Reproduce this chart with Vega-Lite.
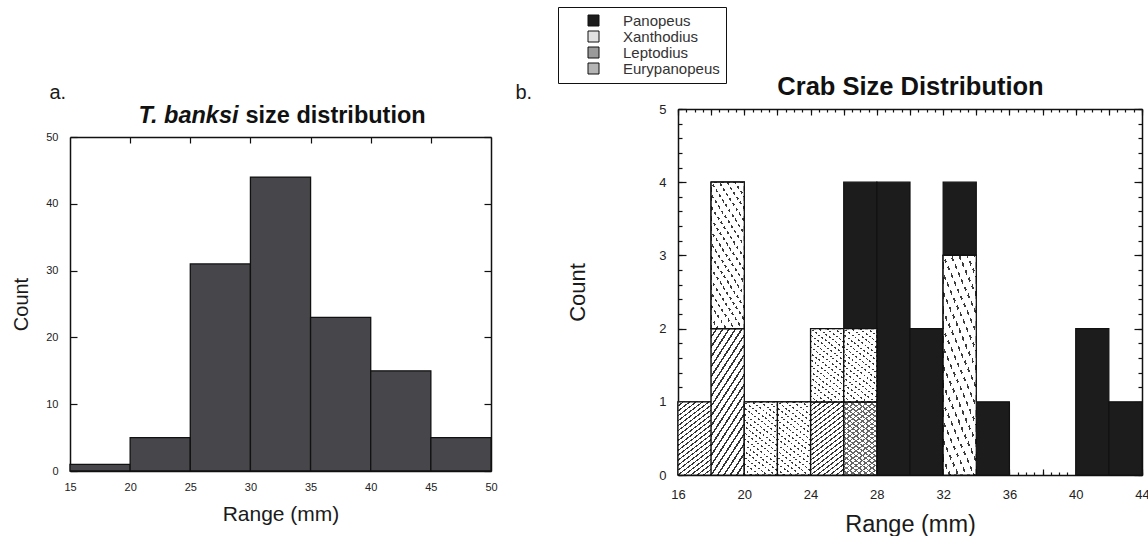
{
  "$schema": "https://vega.github.io/schema/vega-lite/v6.json",
  "background": "white",
  "padding": {"left": 11, "top": 6, "right": 0, "bottom": 0},
  "config": {
    "font": "Liberation Sans",
    "view": {"stroke": null},
    "axis": {
      "grid": false,
      "domainColor": "#111111",
      "domainWidth": 1.5,
      "tickColor": "#111111",
      "tickWidth": 1.2,
      "labelColor": "#222222",
      "titleColor": "#1a1a1a",
      "titleFontWeight": "normal",
      "labelFlush": false,
      "labelOverlap": false
    }
  },
  "datasets": {
    "tbanksi": [
      {"lo": 15, "hi": 20, "count": 1},
      {"lo": 20, "hi": 25, "count": 5},
      {"lo": 25, "hi": 30, "count": 31},
      {"lo": 30, "hi": 35, "count": 44},
      {"lo": 35, "hi": 40, "count": 23},
      {"lo": 40, "hi": 45, "count": 15},
      {"lo": 45, "hi": 50, "count": 5}
    ],
    "crabs": [
      {"lo": 16, "hi": 18, "species": "Leptodius", "count": 1},
      {"lo": 18, "hi": 20, "species": "Leptodius", "count": 2},
      {"lo": 18, "hi": 20, "species": "Xanthodius", "count": 2},
      {"lo": 20, "hi": 22, "species": "Xanthodius", "count": 1},
      {"lo": 22, "hi": 24, "species": "Xanthodius", "count": 1},
      {"lo": 24, "hi": 26, "species": "Leptodius", "count": 1},
      {"lo": 24, "hi": 26, "species": "Xanthodius", "count": 1},
      {"lo": 26, "hi": 28, "species": "Eurypanopeus", "count": 1},
      {"lo": 26, "hi": 28, "species": "Xanthodius", "count": 1},
      {"lo": 26, "hi": 28, "species": "Panopeus", "count": 2},
      {"lo": 28, "hi": 30, "species": "Panopeus", "count": 4},
      {"lo": 30, "hi": 32, "species": "Panopeus", "count": 2},
      {"lo": 32, "hi": 34, "species": "Xanthodius", "count": 3},
      {"lo": 32, "hi": 34, "species": "Panopeus", "count": 1},
      {"lo": 34, "hi": 36, "species": "Panopeus", "count": 1},
      {"lo": 40, "hi": 42, "species": "Panopeus", "count": 2},
      {"lo": 42, "hi": 44, "species": "Panopeus", "count": 1}
    ]
  },
  "bounds": "flush",
  "spacing": 187,
  "hconcat": [
    {
      "width": 421,
      "height": 362,
      "data": {"name": "tbanksi"},
      "resolve": {"axis": {"x": "independent", "y": "independent"}},
      "layer": [
        {
          "mark": {"type": "bar", "fill": "#47464a", "stroke": "#111111", "strokeWidth": 1.3},
          "encoding": {
            "x": {
              "field": "lo", "type": "quantitative",
              "scale": {"domain": [15, 50], "nice": false, "zero": false},
              "axis": {
                "orient": "bottom", "values": [15, 20, 25, 30, 35, 40, 45, 50],
                "ticks": false, "labelFontSize": 11, "labelPadding": 10,
                "title": "Range (mm)", "titleFontSize": 21, "titlePadding": 11
              }
            },
            "x2": {"field": "hi"},
            "y": {
              "field": "count", "type": "quantitative",
              "scale": {"domain": [0, 50], "range": [362, 28], "nice": false},
              "axis": {
                "orient": "left", "values": [0, 10, 20, 30, 40, 50],
                "tickSize": -7, "labelFontSize": 11, "labelPadding": 19,
                "title": "Count", "titleFontSize": 20, "titlePadding": 14
              }
            },
            "y2": {"datum": 0}
          }
        },
        {
          "transform": [{"filter": "false"}],
          "mark": {"type": "bar"},
          "encoding": {
            "x": {
              "field": "lo", "type": "quantitative",
              "scale": {"domain": [15, 50], "nice": false, "zero": false},
              "axis": {
                "orient": "top", "offset": -28, "values": [20, 25, 30, 35, 40, 45],
                "tickSize": -6, "labels": false,
                "title": "size distribution", "titleX": 175, "titleY": -15, "titleAngle": 0,
                "titleAlign": "left", "titleBaseline": "alphabetic",
                "titleFontSize": 23.5, "titleFontWeight": "bold", "titleColor": "#111111"
              }
            },
            "x2": {"field": "hi"},
            "y": {
              "field": "count", "type": "quantitative",
              "scale": {"domain": [0, 50], "range": [362, 28], "nice": false},
              "axis": {
                "orient": "right", "values": [0, 10, 20, 30, 40, 50],
                "tickSize": -7, "labels": false,
                "title": "T. banksi", "titleX": -253, "titleY": 13, "titleAngle": 0,
                "titleAlign": "right", "titleBaseline": "alphabetic",
                "titleFontSize": 23.5, "titleFontWeight": "bold", "titleFontStyle": "italic", "titleColor": "#111111"
              }
            },
            "y2": {"datum": 0}
          }
        },
        {
          "transform": [{"filter": "false"}],
          "mark": {"type": "bar"},
          "encoding": {
            "x": {
              "field": "lo", "type": "quantitative",
              "scale": {"domain": [15, 50], "nice": false, "zero": false},
              "axis": null
            },
            "x2": {"field": "hi"},
            "y": {
              "field": "count", "type": "quantitative",
              "scale": {"domain": [0, 50], "range": [362, 28], "nice": false},
              "axis": {
                "orient": "left", "domain": false, "ticks": false, "labels": false,
                "title": "a.", "titleX": -21, "titleY": -11, "titleAngle": 0,
                "titleAlign": "left", "titleBaseline": "alphabetic", "titleFontSize": 20
              }
            },
            "y2": {"datum": 0}
          }
        }
      ]
    },
    {
      "width": 464,
      "height": 366,
      "data": {"name": "crabs"},
      "transform": [{"stack": "count", "groupby": ["lo"], "as": ["y0", "y1"]}],
      "resolve": {"axis": {"x": "independent", "y": "independent"}},
      "layer": [
        {
          "mark": {"type": "bar", "stroke": "#111111", "strokeWidth": 1.2},
          "encoding": {
            "x": {
              "field": "lo", "type": "quantitative",
              "scale": {"domain": [16, 44], "nice": false, "zero": false},
              "axis": {
                "orient": "bottom", "values": [16, 18, 20, 22, 24, 26, 28, 30, 32, 34, 36, 38, 40, 42, 44],
                "labelExpr": "datum.value % 4 === 0 ? datum.label : ''",
                "tickSize": -6, "labelFontSize": 13, "labelPadding": 19,
                "title": "Range (mm)", "titleFontSize": 23.5, "titlePadding": 11
              }
            },
            "x2": {"field": "hi"},
            "y": {
              "field": "y0", "type": "quantitative",
              "scale": {"domain": [0, 5], "nice": false},
              "axis": {
                "orient": "left", "values": [0, 1, 2, 3, 4, 5],
                "tickSize": -8, "labelFontSize": 13, "labelPadding": 20,
                "title": "Count", "titleFontSize": 22, "titlePadding": 69
              }
            },
            "y2": {"field": "y1"},
            "fill": {
              "field": "species", "type": "nominal",
              "scale": {
                "domain": ["Panopeus", "Xanthodius", "Leptodius", "Eurypanopeus"],
                "range": ["#1c1c1c", "#e2e2e2", "#9a9a9a", "#b4b4b4"]
              },
              "legend": {
                "orient": "none", "legendX": 488, "legendY": -102,
                "title": null, "symbolType": "square", "symbolSize": 121,
                "symbolStrokeColor": "#111111", "symbolStrokeWidth": 1,
                "symbolOffset": 22, "labelOffset": 22,
                "labelFontSize": 15, "labelColor": "#333333", "labelLimit": 300,
                "rowPadding": 0, "padding": 6,
                "strokeColor": "#111111", "fillColor": "#ffffff"
              }
            }
          }
        },
        {
          "transform": [{"filter": {"field": "species", "oneOf": ["Xanthodius", "Leptodius", "Eurypanopeus"]}}],
          "mark": {"type": "bar", "stroke": "#111111", "strokeWidth": 1.2},
          "encoding": {
            "x": {
              "field": "lo", "type": "quantitative",
              "scale": {"domain": [16, 44], "nice": false, "zero": false},
              "axis": {
                "orient": "top", "values": [16, 18, 20, 22, 24, 26, 28, 30, 32, 34, 36, 38, 40, 42, 44],
                "tickSize": -6, "labels": false,
                "title": "Crab Size Distribution", "titleX": 232, "titleY": -15, "titleAngle": 0,
                "titleAlign": "center", "titleBaseline": "alphabetic",
                "titleFontSize": 25.5, "titleFontWeight": "bold", "titleColor": "#111111"
              }
            },
            "x2": {"field": "hi"},
            "y": {
              "field": "y0", "type": "quantitative",
              "scale": {"domain": [0, 5], "nice": false},
              "axis": {"orient": "right", "values": [0, 1, 2, 3, 4, 5], "tickSize": -8, "labels": false, "title": null}
            },
            "y2": {"field": "y1"},
            "fill": {
              "condition": [
                {
                  "test": "datum.species === 'Xanthodius'",
                  "value": {
                    "gradient": "linear", "x1": 0, "y1": 1, "x2": 0.42, "y2": -0.2,
                    "stops": [
                      {"offset": 0, "color": "#ffffff"}, {"offset": 0.047, "color": "#ffffff"}, {"offset": 0.047, "color": "#3a3a3a"}, {"offset": 0.0625, "color": "#3a3a3a"},
                      {"offset": 0.0625, "color": "#ffffff"}, {"offset": 0.1095, "color": "#ffffff"}, {"offset": 0.1095, "color": "#3a3a3a"}, {"offset": 0.125, "color": "#3a3a3a"},
                      {"offset": 0.125, "color": "#ffffff"}, {"offset": 0.172, "color": "#ffffff"}, {"offset": 0.172, "color": "#3a3a3a"}, {"offset": 0.1875, "color": "#3a3a3a"},
                      {"offset": 0.1875, "color": "#ffffff"}, {"offset": 0.2345, "color": "#ffffff"}, {"offset": 0.2345, "color": "#3a3a3a"}, {"offset": 0.25, "color": "#3a3a3a"},
                      {"offset": 0.25, "color": "#ffffff"}, {"offset": 0.297, "color": "#ffffff"}, {"offset": 0.297, "color": "#3a3a3a"}, {"offset": 0.3125, "color": "#3a3a3a"},
                      {"offset": 0.3125, "color": "#ffffff"}, {"offset": 0.3595, "color": "#ffffff"}, {"offset": 0.3595, "color": "#3a3a3a"}, {"offset": 0.375, "color": "#3a3a3a"},
                      {"offset": 0.375, "color": "#ffffff"}, {"offset": 0.422, "color": "#ffffff"}, {"offset": 0.422, "color": "#3a3a3a"}, {"offset": 0.4375, "color": "#3a3a3a"},
                      {"offset": 0.4375, "color": "#ffffff"}, {"offset": 0.4845, "color": "#ffffff"}, {"offset": 0.4845, "color": "#3a3a3a"}, {"offset": 0.5, "color": "#3a3a3a"},
                      {"offset": 0.5, "color": "#ffffff"}, {"offset": 0.547, "color": "#ffffff"}, {"offset": 0.547, "color": "#3a3a3a"}, {"offset": 0.5625, "color": "#3a3a3a"},
                      {"offset": 0.5625, "color": "#ffffff"}, {"offset": 0.6095, "color": "#ffffff"}, {"offset": 0.6095, "color": "#3a3a3a"}, {"offset": 0.625, "color": "#3a3a3a"},
                      {"offset": 0.625, "color": "#ffffff"}, {"offset": 0.672, "color": "#ffffff"}, {"offset": 0.672, "color": "#3a3a3a"}, {"offset": 0.6875, "color": "#3a3a3a"},
                      {"offset": 0.6875, "color": "#ffffff"}, {"offset": 0.7345, "color": "#ffffff"}, {"offset": 0.7345, "color": "#3a3a3a"}, {"offset": 0.75, "color": "#3a3a3a"},
                      {"offset": 0.75, "color": "#ffffff"}, {"offset": 0.797, "color": "#ffffff"}, {"offset": 0.797, "color": "#3a3a3a"}, {"offset": 0.8125, "color": "#3a3a3a"},
                      {"offset": 0.8125, "color": "#ffffff"}, {"offset": 0.8595, "color": "#ffffff"}, {"offset": 0.8595, "color": "#3a3a3a"}, {"offset": 0.875, "color": "#3a3a3a"},
                      {"offset": 0.875, "color": "#ffffff"}, {"offset": 0.922, "color": "#ffffff"}, {"offset": 0.922, "color": "#3a3a3a"}, {"offset": 0.9375, "color": "#3a3a3a"},
                      {"offset": 0.9375, "color": "#ffffff"}, {"offset": 0.9845, "color": "#ffffff"}, {"offset": 0.9845, "color": "#3a3a3a"}, {"offset": 1, "color": "#3a3a3a"}
                    ]
                  }
                },
                {
                  "test": "datum.species === 'Leptodius'",
                  "value": {
                    "gradient": "linear", "x1": 0, "y1": 0, "x2": 0.42, "y2": 1.2,
                    "stops": [
                      {"offset": 0, "color": "#ffffff"}, {"offset": 0.036, "color": "#ffffff"}, {"offset": 0.036, "color": "#333333"}, {"offset": 0.05, "color": "#333333"},
                      {"offset": 0.05, "color": "#ffffff"}, {"offset": 0.086, "color": "#ffffff"}, {"offset": 0.086, "color": "#333333"}, {"offset": 0.1, "color": "#333333"},
                      {"offset": 0.1, "color": "#ffffff"}, {"offset": 0.136, "color": "#ffffff"}, {"offset": 0.136, "color": "#333333"}, {"offset": 0.15, "color": "#333333"},
                      {"offset": 0.15, "color": "#ffffff"}, {"offset": 0.186, "color": "#ffffff"}, {"offset": 0.186, "color": "#333333"}, {"offset": 0.2, "color": "#333333"},
                      {"offset": 0.2, "color": "#ffffff"}, {"offset": 0.236, "color": "#ffffff"}, {"offset": 0.236, "color": "#333333"}, {"offset": 0.25, "color": "#333333"},
                      {"offset": 0.25, "color": "#ffffff"}, {"offset": 0.286, "color": "#ffffff"}, {"offset": 0.286, "color": "#333333"}, {"offset": 0.3, "color": "#333333"},
                      {"offset": 0.3, "color": "#ffffff"}, {"offset": 0.336, "color": "#ffffff"}, {"offset": 0.336, "color": "#333333"}, {"offset": 0.35, "color": "#333333"},
                      {"offset": 0.35, "color": "#ffffff"}, {"offset": 0.386, "color": "#ffffff"}, {"offset": 0.386, "color": "#333333"}, {"offset": 0.4, "color": "#333333"},
                      {"offset": 0.4, "color": "#ffffff"}, {"offset": 0.436, "color": "#ffffff"}, {"offset": 0.436, "color": "#333333"}, {"offset": 0.45, "color": "#333333"},
                      {"offset": 0.45, "color": "#ffffff"}, {"offset": 0.486, "color": "#ffffff"}, {"offset": 0.486, "color": "#333333"}, {"offset": 0.5, "color": "#333333"},
                      {"offset": 0.5, "color": "#ffffff"}, {"offset": 0.536, "color": "#ffffff"}, {"offset": 0.536, "color": "#333333"}, {"offset": 0.55, "color": "#333333"},
                      {"offset": 0.55, "color": "#ffffff"}, {"offset": 0.586, "color": "#ffffff"}, {"offset": 0.586, "color": "#333333"}, {"offset": 0.6, "color": "#333333"},
                      {"offset": 0.6, "color": "#ffffff"}, {"offset": 0.636, "color": "#ffffff"}, {"offset": 0.636, "color": "#333333"}, {"offset": 0.65, "color": "#333333"},
                      {"offset": 0.65, "color": "#ffffff"}, {"offset": 0.686, "color": "#ffffff"}, {"offset": 0.686, "color": "#333333"}, {"offset": 0.7, "color": "#333333"},
                      {"offset": 0.7, "color": "#ffffff"}, {"offset": 0.736, "color": "#ffffff"}, {"offset": 0.736, "color": "#333333"}, {"offset": 0.75, "color": "#333333"},
                      {"offset": 0.75, "color": "#ffffff"}, {"offset": 0.786, "color": "#ffffff"}, {"offset": 0.786, "color": "#333333"}, {"offset": 0.8, "color": "#333333"},
                      {"offset": 0.8, "color": "#ffffff"}, {"offset": 0.836, "color": "#ffffff"}, {"offset": 0.836, "color": "#333333"}, {"offset": 0.85, "color": "#333333"},
                      {"offset": 0.85, "color": "#ffffff"}, {"offset": 0.886, "color": "#ffffff"}, {"offset": 0.886, "color": "#333333"}, {"offset": 0.9, "color": "#333333"},
                      {"offset": 0.9, "color": "#ffffff"}, {"offset": 0.936, "color": "#ffffff"}, {"offset": 0.936, "color": "#333333"}, {"offset": 0.95, "color": "#333333"},
                      {"offset": 0.95, "color": "#ffffff"}, {"offset": 0.986, "color": "#ffffff"}, {"offset": 0.986, "color": "#333333"}, {"offset": 1, "color": "#333333"}
                    ]
                  }
                }
              ],
              "value": {
                "gradient": "linear", "x1": 0, "y1": 1, "x2": 0.42, "y2": -0.2,
                "stops": [
                  {"offset": 0, "color": "#ffffff"}, {"offset": 0.036, "color": "#ffffff"}, {"offset": 0.036, "color": "#666666"}, {"offset": 0.05, "color": "#666666"},
                  {"offset": 0.05, "color": "#ffffff"}, {"offset": 0.086, "color": "#ffffff"}, {"offset": 0.086, "color": "#666666"}, {"offset": 0.1, "color": "#666666"},
                  {"offset": 0.1, "color": "#ffffff"}, {"offset": 0.136, "color": "#ffffff"}, {"offset": 0.136, "color": "#666666"}, {"offset": 0.15, "color": "#666666"},
                  {"offset": 0.15, "color": "#ffffff"}, {"offset": 0.186, "color": "#ffffff"}, {"offset": 0.186, "color": "#666666"}, {"offset": 0.2, "color": "#666666"},
                  {"offset": 0.2, "color": "#ffffff"}, {"offset": 0.236, "color": "#ffffff"}, {"offset": 0.236, "color": "#666666"}, {"offset": 0.25, "color": "#666666"},
                  {"offset": 0.25, "color": "#ffffff"}, {"offset": 0.286, "color": "#ffffff"}, {"offset": 0.286, "color": "#666666"}, {"offset": 0.3, "color": "#666666"},
                  {"offset": 0.3, "color": "#ffffff"}, {"offset": 0.336, "color": "#ffffff"}, {"offset": 0.336, "color": "#666666"}, {"offset": 0.35, "color": "#666666"},
                  {"offset": 0.35, "color": "#ffffff"}, {"offset": 0.386, "color": "#ffffff"}, {"offset": 0.386, "color": "#666666"}, {"offset": 0.4, "color": "#666666"},
                  {"offset": 0.4, "color": "#ffffff"}, {"offset": 0.436, "color": "#ffffff"}, {"offset": 0.436, "color": "#666666"}, {"offset": 0.45, "color": "#666666"},
                  {"offset": 0.45, "color": "#ffffff"}, {"offset": 0.486, "color": "#ffffff"}, {"offset": 0.486, "color": "#666666"}, {"offset": 0.5, "color": "#666666"},
                  {"offset": 0.5, "color": "#ffffff"}, {"offset": 0.536, "color": "#ffffff"}, {"offset": 0.536, "color": "#666666"}, {"offset": 0.55, "color": "#666666"},
                  {"offset": 0.55, "color": "#ffffff"}, {"offset": 0.586, "color": "#ffffff"}, {"offset": 0.586, "color": "#666666"}, {"offset": 0.6, "color": "#666666"},
                  {"offset": 0.6, "color": "#ffffff"}, {"offset": 0.636, "color": "#ffffff"}, {"offset": 0.636, "color": "#666666"}, {"offset": 0.65, "color": "#666666"},
                  {"offset": 0.65, "color": "#ffffff"}, {"offset": 0.686, "color": "#ffffff"}, {"offset": 0.686, "color": "#666666"}, {"offset": 0.7, "color": "#666666"},
                  {"offset": 0.7, "color": "#ffffff"}, {"offset": 0.736, "color": "#ffffff"}, {"offset": 0.736, "color": "#666666"}, {"offset": 0.75, "color": "#666666"},
                  {"offset": 0.75, "color": "#ffffff"}, {"offset": 0.786, "color": "#ffffff"}, {"offset": 0.786, "color": "#666666"}, {"offset": 0.8, "color": "#666666"},
                  {"offset": 0.8, "color": "#ffffff"}, {"offset": 0.836, "color": "#ffffff"}, {"offset": 0.836, "color": "#666666"}, {"offset": 0.85, "color": "#666666"},
                  {"offset": 0.85, "color": "#ffffff"}, {"offset": 0.886, "color": "#ffffff"}, {"offset": 0.886, "color": "#666666"}, {"offset": 0.9, "color": "#666666"},
                  {"offset": 0.9, "color": "#ffffff"}, {"offset": 0.936, "color": "#ffffff"}, {"offset": 0.936, "color": "#666666"}, {"offset": 0.95, "color": "#666666"},
                  {"offset": 0.95, "color": "#ffffff"}, {"offset": 0.986, "color": "#ffffff"}, {"offset": 0.986, "color": "#666666"}, {"offset": 1, "color": "#666666"}
                ]
              }
            }
          }
        },
        {
          "transform": [{"filter": {"field": "species", "oneOf": ["Xanthodius", "Eurypanopeus"]}}],
          "mark": {"type": "bar", "stroke": "#111111", "strokeWidth": 1.2},
          "encoding": {
            "x": {
              "field": "lo", "type": "quantitative",
              "scale": {"domain": [16, 44], "nice": false, "zero": false},
              "axis": {
                "orient": "bottom", "domain": false, "labels": false, "tickSize": -3, "title": null,
                "values": [16, 16.5, 17, 17.5, 18, 18.5, 19, 19.5, 20, 20.5, 21, 21.5, 22, 22.5, 23, 23.5, 24, 24.5, 25, 25.5, 26, 26.5, 27, 27.5, 28, 28.5, 29, 29.5, 30, 30.5, 31, 31.5, 32, 32.5, 33, 33.5, 34, 34.5, 35, 35.5, 36, 36.5, 37, 37.5, 38, 38.5, 39, 39.5, 40, 40.5, 41, 41.5, 42, 42.5, 43, 43.5, 44]
              }
            },
            "x2": {"field": "hi"},
            "y": {
              "field": "y0", "type": "quantitative",
              "scale": {"domain": [0, 5], "nice": false},
              "axis": {
                "orient": "left", "domain": false, "labels": false, "tickSize": -4,
                "values": [0, 0.2, 0.4, 0.6, 0.8, 1, 1.2, 1.4, 1.6, 1.8, 2, 2.2, 2.4, 2.6, 2.8, 3, 3.2, 3.4, 3.6, 3.8, 4, 4.2, 4.4, 4.6, 4.8, 5],
                "title": "b.", "titleX": -163, "titleY": -11, "titleAngle": 0,
                "titleAlign": "left", "titleBaseline": "alphabetic", "titleFontSize": 20
              }
            },
            "y2": {"field": "y1"},
            "fill": {
              "condition": {
                "test": "datum.species === 'Xanthodius'",
                "value": {
                  "gradient": "linear", "x1": 0, "y1": 0, "x2": 0.42, "y2": 1.2,
                  "stops": [
                    {"offset": 0, "color": "#ffffff"}, {"offset": 0.025, "color": "#ffffff"}, {"offset": 0.025, "color": "rgba(255,255,255,0)"}, {"offset": 0.05, "color": "rgba(255,255,255,0)"},
                    {"offset": 0.05, "color": "#ffffff"}, {"offset": 0.075, "color": "#ffffff"}, {"offset": 0.075, "color": "rgba(255,255,255,0)"}, {"offset": 0.1, "color": "rgba(255,255,255,0)"},
                    {"offset": 0.1, "color": "#ffffff"}, {"offset": 0.125, "color": "#ffffff"}, {"offset": 0.125, "color": "rgba(255,255,255,0)"}, {"offset": 0.15, "color": "rgba(255,255,255,0)"},
                    {"offset": 0.15, "color": "#ffffff"}, {"offset": 0.175, "color": "#ffffff"}, {"offset": 0.175, "color": "rgba(255,255,255,0)"}, {"offset": 0.2, "color": "rgba(255,255,255,0)"},
                    {"offset": 0.2, "color": "#ffffff"}, {"offset": 0.225, "color": "#ffffff"}, {"offset": 0.225, "color": "rgba(255,255,255,0)"}, {"offset": 0.25, "color": "rgba(255,255,255,0)"},
                    {"offset": 0.25, "color": "#ffffff"}, {"offset": 0.275, "color": "#ffffff"}, {"offset": 0.275, "color": "rgba(255,255,255,0)"}, {"offset": 0.3, "color": "rgba(255,255,255,0)"},
                    {"offset": 0.3, "color": "#ffffff"}, {"offset": 0.325, "color": "#ffffff"}, {"offset": 0.325, "color": "rgba(255,255,255,0)"}, {"offset": 0.35, "color": "rgba(255,255,255,0)"},
                    {"offset": 0.35, "color": "#ffffff"}, {"offset": 0.375, "color": "#ffffff"}, {"offset": 0.375, "color": "rgba(255,255,255,0)"}, {"offset": 0.4, "color": "rgba(255,255,255,0)"},
                    {"offset": 0.4, "color": "#ffffff"}, {"offset": 0.425, "color": "#ffffff"}, {"offset": 0.425, "color": "rgba(255,255,255,0)"}, {"offset": 0.45, "color": "rgba(255,255,255,0)"},
                    {"offset": 0.45, "color": "#ffffff"}, {"offset": 0.475, "color": "#ffffff"}, {"offset": 0.475, "color": "rgba(255,255,255,0)"}, {"offset": 0.5, "color": "rgba(255,255,255,0)"},
                    {"offset": 0.5, "color": "#ffffff"}, {"offset": 0.525, "color": "#ffffff"}, {"offset": 0.525, "color": "rgba(255,255,255,0)"}, {"offset": 0.55, "color": "rgba(255,255,255,0)"},
                    {"offset": 0.55, "color": "#ffffff"}, {"offset": 0.575, "color": "#ffffff"}, {"offset": 0.575, "color": "rgba(255,255,255,0)"}, {"offset": 0.6, "color": "rgba(255,255,255,0)"},
                    {"offset": 0.6, "color": "#ffffff"}, {"offset": 0.625, "color": "#ffffff"}, {"offset": 0.625, "color": "rgba(255,255,255,0)"}, {"offset": 0.65, "color": "rgba(255,255,255,0)"},
                    {"offset": 0.65, "color": "#ffffff"}, {"offset": 0.675, "color": "#ffffff"}, {"offset": 0.675, "color": "rgba(255,255,255,0)"}, {"offset": 0.7, "color": "rgba(255,255,255,0)"},
                    {"offset": 0.7, "color": "#ffffff"}, {"offset": 0.725, "color": "#ffffff"}, {"offset": 0.725, "color": "rgba(255,255,255,0)"}, {"offset": 0.75, "color": "rgba(255,255,255,0)"},
                    {"offset": 0.75, "color": "#ffffff"}, {"offset": 0.775, "color": "#ffffff"}, {"offset": 0.775, "color": "rgba(255,255,255,0)"}, {"offset": 0.8, "color": "rgba(255,255,255,0)"},
                    {"offset": 0.8, "color": "#ffffff"}, {"offset": 0.825, "color": "#ffffff"}, {"offset": 0.825, "color": "rgba(255,255,255,0)"}, {"offset": 0.85, "color": "rgba(255,255,255,0)"},
                    {"offset": 0.85, "color": "#ffffff"}, {"offset": 0.875, "color": "#ffffff"}, {"offset": 0.875, "color": "rgba(255,255,255,0)"}, {"offset": 0.9, "color": "rgba(255,255,255,0)"},
                    {"offset": 0.9, "color": "#ffffff"}, {"offset": 0.925, "color": "#ffffff"}, {"offset": 0.925, "color": "rgba(255,255,255,0)"}, {"offset": 0.95, "color": "rgba(255,255,255,0)"},
                    {"offset": 0.95, "color": "#ffffff"}, {"offset": 0.975, "color": "#ffffff"}, {"offset": 0.975, "color": "rgba(255,255,255,0)"}, {"offset": 1, "color": "rgba(255,255,255,0)"}
                  ]
                }
              },
              "value": {
                "gradient": "linear", "x1": 0, "y1": 0, "x2": 0.42, "y2": 1.2,
                "stops": [
                  {"offset": 0, "color": "rgba(102,102,102,0)"}, {"offset": 0.036, "color": "rgba(102,102,102,0)"}, {"offset": 0.036, "color": "#666666"}, {"offset": 0.05, "color": "#666666"},
                  {"offset": 0.05, "color": "rgba(102,102,102,0)"}, {"offset": 0.086, "color": "rgba(102,102,102,0)"}, {"offset": 0.086, "color": "#666666"}, {"offset": 0.1, "color": "#666666"},
                  {"offset": 0.1, "color": "rgba(102,102,102,0)"}, {"offset": 0.136, "color": "rgba(102,102,102,0)"}, {"offset": 0.136, "color": "#666666"}, {"offset": 0.15, "color": "#666666"},
                  {"offset": 0.15, "color": "rgba(102,102,102,0)"}, {"offset": 0.186, "color": "rgba(102,102,102,0)"}, {"offset": 0.186, "color": "#666666"}, {"offset": 0.2, "color": "#666666"},
                  {"offset": 0.2, "color": "rgba(102,102,102,0)"}, {"offset": 0.236, "color": "rgba(102,102,102,0)"}, {"offset": 0.236, "color": "#666666"}, {"offset": 0.25, "color": "#666666"},
                  {"offset": 0.25, "color": "rgba(102,102,102,0)"}, {"offset": 0.286, "color": "rgba(102,102,102,0)"}, {"offset": 0.286, "color": "#666666"}, {"offset": 0.3, "color": "#666666"},
                  {"offset": 0.3, "color": "rgba(102,102,102,0)"}, {"offset": 0.336, "color": "rgba(102,102,102,0)"}, {"offset": 0.336, "color": "#666666"}, {"offset": 0.35, "color": "#666666"},
                  {"offset": 0.35, "color": "rgba(102,102,102,0)"}, {"offset": 0.386, "color": "rgba(102,102,102,0)"}, {"offset": 0.386, "color": "#666666"}, {"offset": 0.4, "color": "#666666"},
                  {"offset": 0.4, "color": "rgba(102,102,102,0)"}, {"offset": 0.436, "color": "rgba(102,102,102,0)"}, {"offset": 0.436, "color": "#666666"}, {"offset": 0.45, "color": "#666666"},
                  {"offset": 0.45, "color": "rgba(102,102,102,0)"}, {"offset": 0.486, "color": "rgba(102,102,102,0)"}, {"offset": 0.486, "color": "#666666"}, {"offset": 0.5, "color": "#666666"},
                  {"offset": 0.5, "color": "rgba(102,102,102,0)"}, {"offset": 0.536, "color": "rgba(102,102,102,0)"}, {"offset": 0.536, "color": "#666666"}, {"offset": 0.55, "color": "#666666"},
                  {"offset": 0.55, "color": "rgba(102,102,102,0)"}, {"offset": 0.586, "color": "rgba(102,102,102,0)"}, {"offset": 0.586, "color": "#666666"}, {"offset": 0.6, "color": "#666666"},
                  {"offset": 0.6, "color": "rgba(102,102,102,0)"}, {"offset": 0.636, "color": "rgba(102,102,102,0)"}, {"offset": 0.636, "color": "#666666"}, {"offset": 0.65, "color": "#666666"},
                  {"offset": 0.65, "color": "rgba(102,102,102,0)"}, {"offset": 0.686, "color": "rgba(102,102,102,0)"}, {"offset": 0.686, "color": "#666666"}, {"offset": 0.7, "color": "#666666"},
                  {"offset": 0.7, "color": "rgba(102,102,102,0)"}, {"offset": 0.736, "color": "rgba(102,102,102,0)"}, {"offset": 0.736, "color": "#666666"}, {"offset": 0.75, "color": "#666666"},
                  {"offset": 0.75, "color": "rgba(102,102,102,0)"}, {"offset": 0.786, "color": "rgba(102,102,102,0)"}, {"offset": 0.786, "color": "#666666"}, {"offset": 0.8, "color": "#666666"},
                  {"offset": 0.8, "color": "rgba(102,102,102,0)"}, {"offset": 0.836, "color": "rgba(102,102,102,0)"}, {"offset": 0.836, "color": "#666666"}, {"offset": 0.85, "color": "#666666"},
                  {"offset": 0.85, "color": "rgba(102,102,102,0)"}, {"offset": 0.886, "color": "rgba(102,102,102,0)"}, {"offset": 0.886, "color": "#666666"}, {"offset": 0.9, "color": "#666666"},
                  {"offset": 0.9, "color": "rgba(102,102,102,0)"}, {"offset": 0.936, "color": "rgba(102,102,102,0)"}, {"offset": 0.936, "color": "#666666"}, {"offset": 0.95, "color": "#666666"},
                  {"offset": 0.95, "color": "rgba(102,102,102,0)"}, {"offset": 0.986, "color": "rgba(102,102,102,0)"}, {"offset": 0.986, "color": "#666666"}, {"offset": 1, "color": "#666666"}
                ]
              }
            }
          }
        },
        {
          "transform": [{"filter": "false"}],
          "mark": {"type": "bar"},
          "encoding": {
            "x": {
              "field": "lo", "type": "quantitative",
              "scale": {"domain": [16, 44], "nice": false, "zero": false},
              "axis": {
                "orient": "top", "domain": false, "labels": false, "tickSize": -3, "title": null,
                "values": [16, 16.5, 17, 17.5, 18, 18.5, 19, 19.5, 20, 20.5, 21, 21.5, 22, 22.5, 23, 23.5, 24, 24.5, 25, 25.5, 26, 26.5, 27, 27.5, 28, 28.5, 29, 29.5, 30, 30.5, 31, 31.5, 32, 32.5, 33, 33.5, 34, 34.5, 35, 35.5, 36, 36.5, 37, 37.5, 38, 38.5, 39, 39.5, 40, 40.5, 41, 41.5, 42, 42.5, 43, 43.5, 44]
              }
            },
            "x2": {"field": "hi"},
            "y": {
              "field": "y0", "type": "quantitative",
              "scale": {"domain": [0, 5], "nice": false},
              "axis": {
                "orient": "right", "domain": false, "labels": false, "tickSize": -4, "title": null,
                "values": [0, 0.2, 0.4, 0.6, 0.8, 1, 1.2, 1.4, 1.6, 1.8, 2, 2.2, 2.4, 2.6, 2.8, 3, 3.2, 3.4, 3.6, 3.8, 4, 4.2, 4.4, 4.6, 4.8, 5]
              }
            },
            "y2": {"field": "y1"}
          }
        }
      ]
    }
  ]
}
